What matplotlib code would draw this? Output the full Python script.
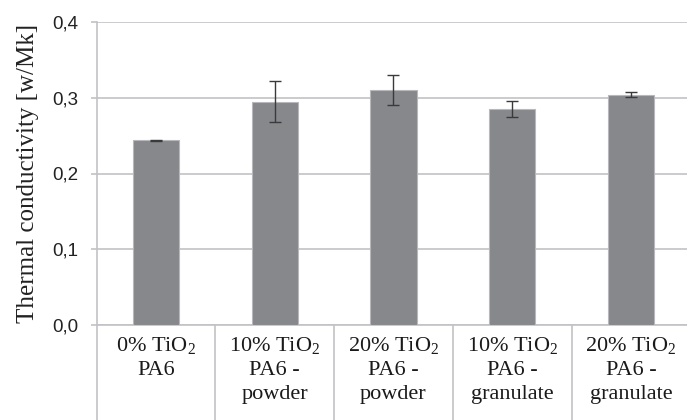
import matplotlib.pyplot as plt
from matplotlib.ticker import FixedLocator

categories = [
    "0% TiO$_2$\nPA6",
    "10% TiO$_2$\nPA6 -\npowder",
    "20% TiO$_2$\nPA6 -\npowder",
    "10% TiO$_2$\nPA6 -\ngranulate",
    "20% TiO$_2$\nPA6 -\ngranulate",
]
conductivity = [0.244, 0.295, 0.310, 0.285, 0.304]
errors = [0.0005, 0.027, 0.020, 0.0105, 0.0033]
y_ticks = [0.0, 0.1, 0.2, 0.3, 0.4]
y_tick_labels = ["0,0", "0,1", "0,2", "0,3", "0,4"]

grid_color = "#c2c2c6"
bar_color = "#87888c"

plt.rcParams["mathtext.fontset"] = "custom"
plt.rcParams["mathtext.rm"] = "Liberation Serif"
plt.rcParams["mathtext.it"] = "Liberation Serif"

fig = plt.figure(figsize=(6.87, 4.2), dpi=100)
ax = fig.add_axes([96.6 / 687, 95 / 420, 593.7 / 687, 303 / 420])

x = list(range(len(categories)))
ax.bar(x, conductivity, width=0.39, color=bar_color, edgecolor="#b8b8bc",
       linewidth=0.8, zorder=3)
ax.errorbar(x, conductivity, yerr=errors, fmt="none", ecolor="#3a3a3a",
            elinewidth=1.0, capsize=4, capthick=1.0, zorder=4)

ax.set_xlim(-0.5, len(categories) - 0.5)
ax.set_ylim(0, 0.4)
ax.set_yticks(y_ticks)
ax.set_yticklabels(y_tick_labels, fontfamily="Liberation Sans", fontsize=13.5,
                   color="#222222")
ax.yaxis.grid(True, color=grid_color, linewidth=1.2, zorder=0)

ax.set_xticks(x)
ax.set_xticklabels(categories, fontfamily="Liberation Serif", fontsize=16,
                   linespacing=1.36, va="top", color="#1a1a1a")
ax.tick_params(axis="x", which="major", length=0, pad=7)
ax.xaxis.set_minor_locator(FixedLocator([i - 0.5 for i in range(len(categories) + 1)]))
ax.tick_params(axis="x", which="minor", length=70, width=1.2, color=grid_color,
               direction="out")
ax.tick_params(axis="y", length=4.5, width=1.2, color=grid_color, pad=8.5)

for side in ["top", "right"]:
    ax.spines[side].set_visible(False)
ax.spines["left"].set_color(grid_color)
ax.spines["left"].set_linewidth(1.2)
ax.spines["bottom"].set_color(grid_color)
ax.spines["bottom"].set_linewidth(1.2)

ax.set_ylabel("Thermal conductivity [w/Mk]", fontfamily="Liberation Serif",
              fontsize=18, labelpad=10, color="#222222")

fig.savefig("out.png", dpi=100)
